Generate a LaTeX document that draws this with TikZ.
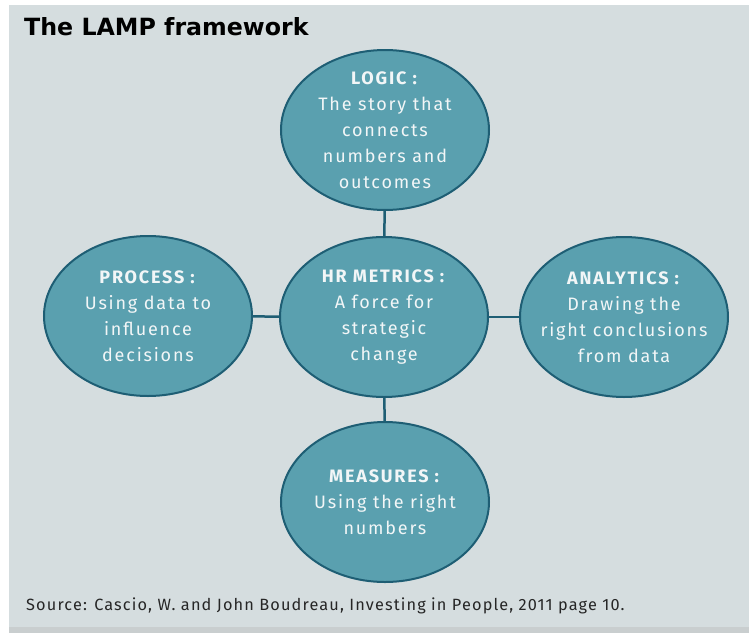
\documentclass[tikz,border=0pt]{standalone}
\usepackage{fontspec}
\setmainfont{Fira Sans}
\newfontfamily\titlefont{DejaVu Sans}
\newfontfamily\lampfont[LetterSpace=10]{Fira Sans}
\newfontfamily\notefont[LetterSpace=7]{Fira Sans}
\usetikzlibrary{shapes.geometric}

\definecolor{panel}{HTML}{D5DDDF}
\definecolor{strip}{HTML}{C9CECF}
\definecolor{lampfill}{HTML}{5AA0AF}
\definecolor{lampedge}{HTML}{1E5E74}
\definecolor{lamptext}{HTML}{F2F6F7}

\begin{document}
\begin{tikzpicture}[
    x=1pt, y=1pt,
    lamp/.style={ellipse, draw=lampedge, line width=2pt, fill=lampfill,
        minimum width=208pt, minimum height=160pt, inner sep=-20pt,
        align=center, text=lamptext, font=\lampfont\fontsize{18}{26}\selectfont},
    link/.style={draw=lampedge, line width=2.5pt}
]
    % Серый фон и нижняя полоса
    \useasboundingbox (-384,-316) rectangle (365,317);
    \fill[white] (-384,-316) rectangle (365,317);
    \fill[panel] (-375,-310) rectangle (365,312);
    \fill[strip] (-375,-316) rectangle (365,-310);

    % Заголовок
    \node[anchor=base west, inner sep=0pt, font=\titlefont\bfseries\fontsize{23.7}{28}\selectfont]
        (title) at (-360,282) {The LAMP framework};

    % Пять эллипсов
    \node[lamp] (metrics) at (0,0) {\textbf{HR METRICS :}\\A force for\\strategic\\change};
    \node[lamp] (logic) at (1,187) {\textbf{LOGIC :}\\The story that\\connects\\numbers and\\outcomes};
    \node[lamp] (process) at (-236,1) {\textbf{PROCESS :}\\Using data to\\influence\\decisions};
    \node[lamp] (analytics) at (240,0) {\textbf{ANALYTICS :}\\Drawing the\\right conclusions\\from data};
    \node[lamp] (measures) at (1,-185) {\textbf{MEASURES :}\\Using the right\\numbers};

    % Линии к центру
    \draw[link] (logic) -- (metrics);
    \draw[link] (process) -- (metrics);
    \draw[link] (metrics) -- (analytics);
    \draw[link] (metrics) -- (measures);

    % Источник
    \node[anchor=base west, inner sep=0pt, text=black!85, font=\notefont\fontsize{16.3}{18}\selectfont]
        (source) at (-358,-293) {Source: Cascio, W. and John Boudreau, Investing in People, 2011 page 10.};
\end{tikzpicture}
\end{document}
